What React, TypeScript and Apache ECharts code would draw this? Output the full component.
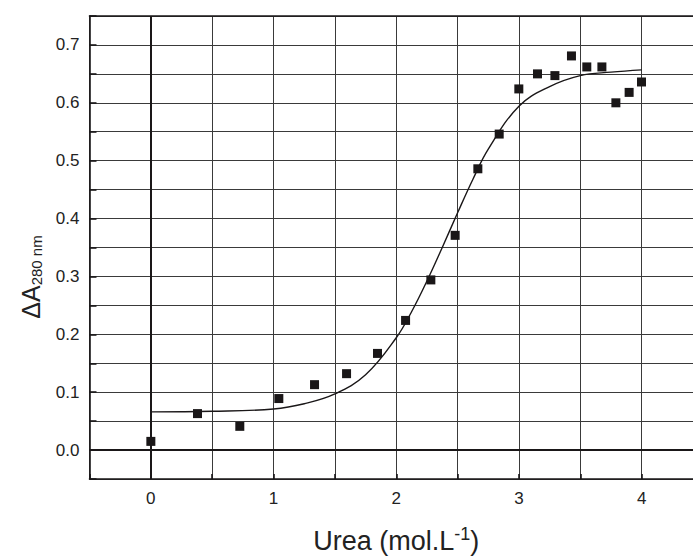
import React, { useEffect, useRef } from "react";
import * as echarts from "echarts";

const urea = [0, 0.38, 0.725, 1.043, 1.334, 1.595, 1.847, 2.076, 2.282, 2.48, 2.665, 2.839, 2.999, 3.151, 3.293, 3.428, 3.553, 3.676, 3.79, 3.898, 3.999];
const deltaA = [0.015, 0.063, 0.041, 0.089, 0.113, 0.132, 0.167, 0.224, 0.294, 0.371, 0.486, 0.546, 0.624, 0.65, 0.647, 0.681, 0.662, 0.662, 0.6, 0.618, 0.636];

const fitX = [0, 0.5, 1.0, 1.25, 1.5, 1.75, 2.0, 2.125, 2.25, 2.375, 2.5, 2.625, 2.75, 3.0, 3.25, 3.5, 3.75, 4.0];
const fitY = [0.066, 0.067, 0.071, 0.08, 0.097, 0.13, 0.194, 0.239, 0.292, 0.35, 0.41, 0.468, 0.52, 0.594, 0.628, 0.647, 0.653, 0.657];

const xMin = -0.5;
const xMax = 4.5;
const yMin = -0.05;
const yMax = 0.75;

export default function App() {
  const ref = useRef<HTMLDivElement>(null);
  useEffect(() => {
    if (!ref.current) return;
    const chart = echarts.init(ref.current, null, { renderer: "svg" });
    const ink = "#1a1718";
    const gridColor = "#3a3a3a";
    const font = "'Liberation Sans', Arial, sans-serif";
    chart.setOption({
      animation: false,
      backgroundColor: "#ffffff",
      grid: { left: 89.5, width: 613.5, top: 16, bottom: 78, outerBoundsMode: "none", containLabel: false },
      xAxis: [
        {
          type: "value",
          min: xMin,
          max: xMax,
          interval: 0.5,
          axisLine: { show: true, onZero: false, lineStyle: { color: ink, width: 1.6 } },
          axisTick: { show: true, inside: true, length: 5, lineStyle: { color: ink, width: 1.6 } },
          axisLabel: {
            margin: 11,
            fontSize: 17,
            fontFamily: font,
            color: "#222",
            formatter: (v: number) => (Math.abs(v - Math.round(v)) < 1e-6 && v > -0.01 && v < 4.01 ? String(Math.round(v)) : ""),
          },
          splitLine: { show: true, lineStyle: { color: gridColor, width: 1 } },
          name: "{m|Urea (mol.L}{s|-1}{m|)}",
          nameLocation: "middle",
          nameGap: 46,
          nameTextStyle: {
            rich: {
              m: { fontSize: 27, fontFamily: font, color: "#222", verticalAlign: "bottom", lineHeight: 29 },
              s: { fontSize: 18, fontFamily: font, color: "#222", verticalAlign: "top", lineHeight: 18 },
            },
          },
        },
        {
          type: "value",
          position: "top",
          min: xMin,
          max: xMax,
          interval: 0.5,
          axisLine: { show: true, onZero: false, lineStyle: { color: ink, width: 1.6 } },
          axisTick: { show: false },
          axisLabel: { show: false },
          splitLine: { show: false },
        },
      ],
      yAxis: {
        type: "value",
        min: yMin,
        max: yMax,
        interval: 0.05,
        axisLine: { show: true, onZero: false, lineStyle: { color: ink, width: 1.6 } },
        axisTick: { show: true, inside: true, length: 7, lineStyle: { color: ink, width: 1.6 } },
        axisLabel: {
          margin: 10,
          fontSize: 17,
          fontFamily: font,
          color: "#222",
          formatter: (v: number) => {
            const k = Math.round(v * 10);
            return Math.abs(v * 10 - k) < 1e-6 && k >= 0 ? (k / 10).toFixed(1) : "";
          },
        },
        splitLine: { show: true, lineStyle: { color: gridColor, width: 1 } },
      },
      graphic: [
        {
          type: "text",
          x: 31,
          y: 277,
          rotation: Math.PI / 2,
          style: {
            text: "{a|ΔA}{b|280 nm}",
            align: "center",
            verticalAlign: "middle",
            rich: {
              a: { fontSize: 25, fontFamily: font, fill: "#222", lineHeight: 25, verticalAlign: "top" },
              b: { fontSize: 15, fontFamily: font, fill: "#222", lineHeight: 15, verticalAlign: "bottom", padding: [18, 0, 0, 0] },
            },
          },
        },
      ],
      series: [
        {
          type: "line",
          data: fitX.map((x, i) => [x, fitY[i]]),
          smooth: 0.4,
          showSymbol: false,
          symbol: "none",
          lineStyle: { color: ink, width: 1.4 },
          z: 3,
          markLine: {
            silent: true,
            symbol: "none",
            label: { show: false },
            lineStyle: { color: ink, width: 2, type: "solid" },
            data: [{ yAxis: 0 }, { xAxis: 0 }],
          },
        },
        {
          type: "scatter",
          data: urea.map((x, i) => [x, deltaA[i]]),
          symbol: "rect",
          symbolSize: 9,
          itemStyle: { color: ink, opacity: 1 },
          z: 4,
        },
      ],
    });
    return () => chart.dispose();
  }, []);
  return <div ref={ref} style={{ position: "fixed", left: 0, top: 0, width: 693, height: 557 }} />;
}
